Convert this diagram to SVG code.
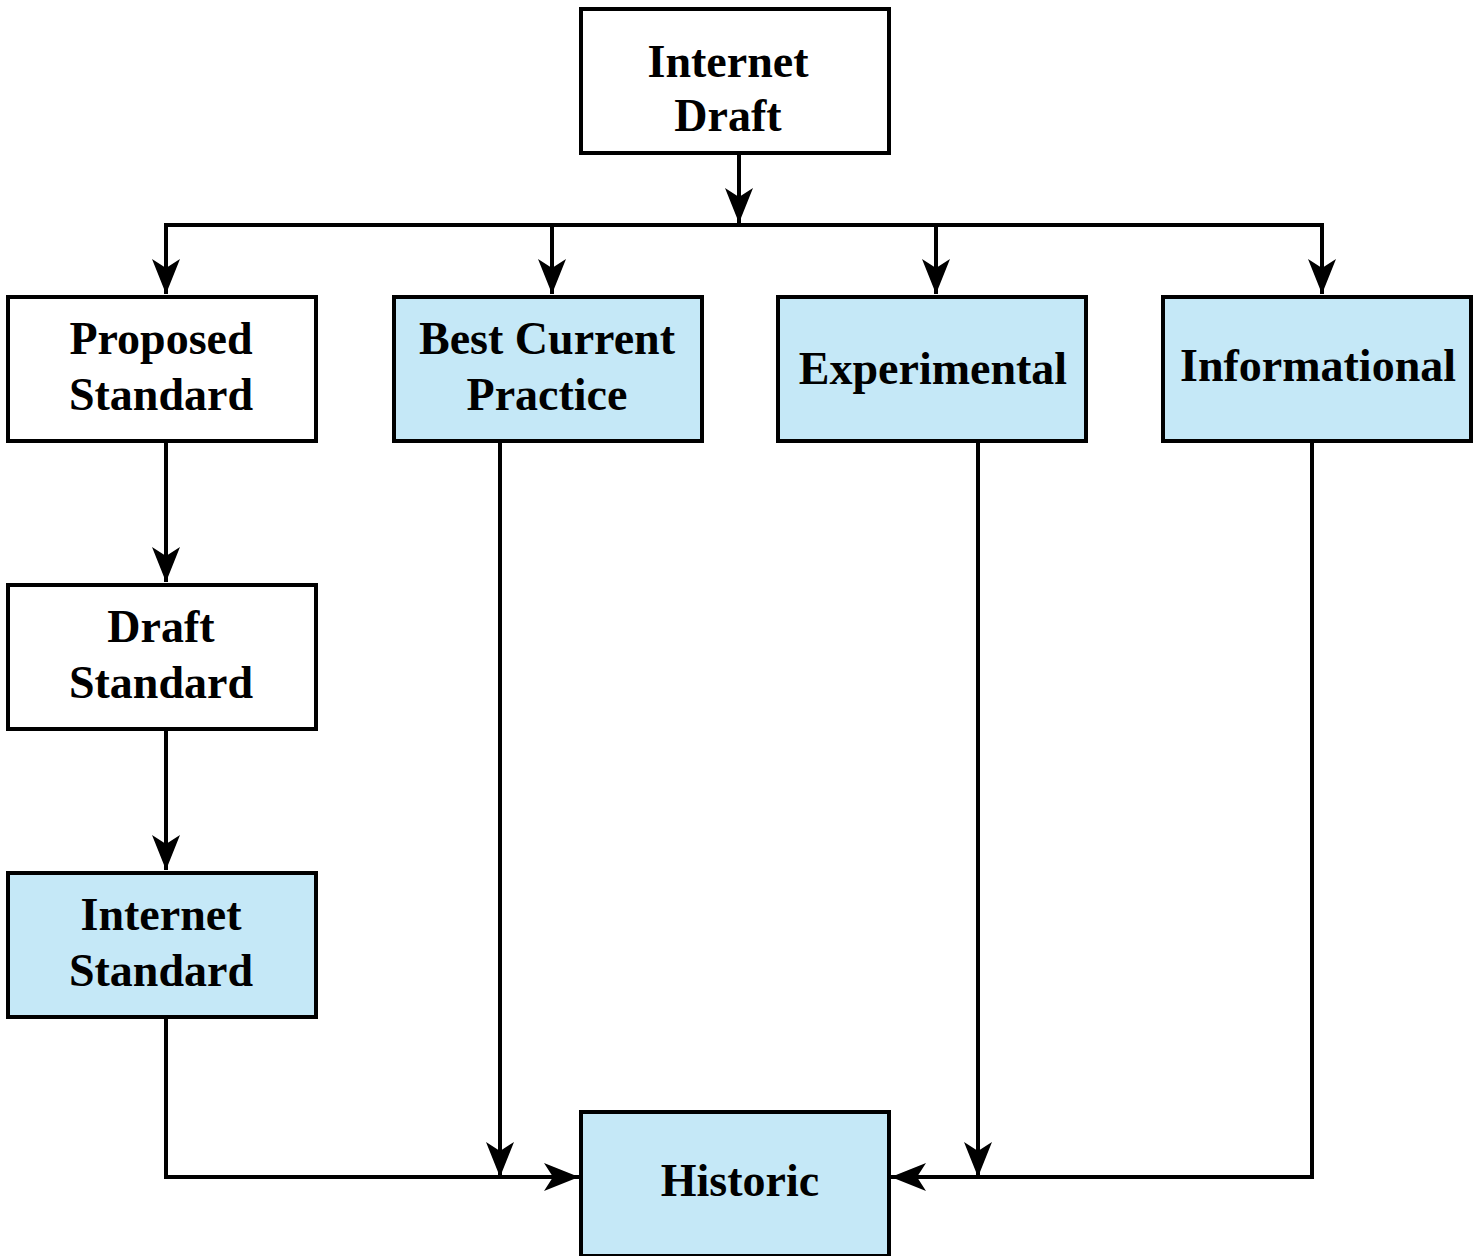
<svg xmlns="http://www.w3.org/2000/svg" width="1483" height="1256" viewBox="0 0 1483 1256">
<style>
.box{stroke:#000;stroke-width:4}
.w{fill:#fff}
.b{fill:#C5E8F7}
.t{font-family:"Liberation Serif","Times New Roman",serif;font-weight:bold;font-size:46px;fill:#000;text-anchor:middle}
.c{fill:none;stroke:#000;stroke-width:4}
</style>
<defs>
<marker id="ah" markerUnits="userSpaceOnUse" viewBox="-36 -16 38 32" refX="0" refY="0" markerWidth="38" markerHeight="32" orient="auto">
<path d="M0,0 L-35,-14 L-26,0 L-35,14 Z" fill="#000"/>
</marker>
</defs>
<rect width="1483" height="1256" fill="#fff"/>
<g id="connectors">
<line class="c" x1="739" y1="153" x2="739" y2="223" marker-end="url(#ah)"/>
<line class="c" x1="164" y1="225" x2="1324" y2="225"/>
<polyline class="c" points="166,225 166,294" marker-end="url(#ah)"/>
<polyline class="c" points="552,225 552,294" marker-end="url(#ah)"/>
<polyline class="c" points="936,225 936,294" marker-end="url(#ah)"/>
<polyline class="c" points="1322,225 1322,294" marker-end="url(#ah)"/>
<line class="c" x1="166" y1="441" x2="166" y2="582" marker-end="url(#ah)"/>
<line class="c" x1="166" y1="729" x2="166" y2="870" marker-end="url(#ah)"/>
<polyline class="c" points="166,1017 166,1177 579,1177" marker-end="url(#ah)"/>
<line class="c" x1="500" y1="441" x2="500" y2="1177" marker-end="url(#ah)"/>
<line class="c" x1="978" y1="441" x2="978" y2="1177" marker-end="url(#ah)"/>
<polyline class="c" points="1312,441 1312,1177 891,1177" marker-end="url(#ah)"/>
</g>
<g id="internet-draft">
<rect class="box w" x="581" y="9" width="308" height="144"/>
<text class="t" x="728" y="77">Internet</text>
<text class="t" x="728" y="131">Draft</text>
</g>
<g id="proposed-standard">
<rect class="box w" x="8" y="297" width="308" height="144"/>
<text class="t" x="161" y="354">Proposed</text>
<text class="t" x="161" y="410">Standard</text>
</g>
<g id="best-current-practice">
<rect class="box b" x="394" y="297" width="308" height="144"/>
<text class="t" x="547" y="354">Best Current</text>
<text class="t" x="547" y="410">Practice</text>
</g>
<g id="experimental">
<rect class="box b" x="778" y="297" width="308" height="144"/>
<text class="t" x="933" y="384">Experimental</text>
</g>
<g id="informational">
<rect class="box b" x="1163" y="297" width="308" height="144"/>
<text class="t" x="1318" y="381">Informational</text>
</g>
<g id="draft-standard">
<rect class="box w" x="8" y="585" width="308" height="144"/>
<text class="t" x="161" y="642">Draft</text>
<text class="t" x="161" y="698">Standard</text>
</g>
<g id="internet-standard">
<rect class="box b" x="8" y="873" width="308" height="144"/>
<text class="t" x="161" y="930">Internet</text>
<text class="t" x="161" y="986">Standard</text>
</g>
<g id="historic">
<rect class="box b" x="581" y="1112" width="308" height="144"/>
<text class="t" x="740" y="1196">Historic</text>
</g>
</svg>
